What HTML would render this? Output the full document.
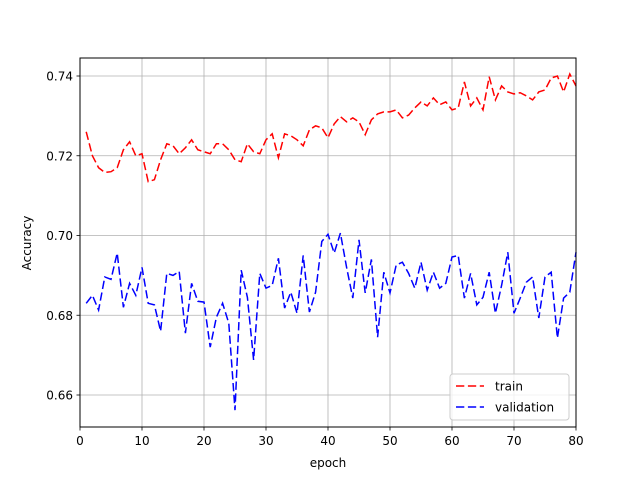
<!DOCTYPE html>
<html><head><meta charset="utf-8"><style>
body{margin:0;background:#fff}
svg{display:block;font-family:"DejaVu Sans","Liberation Sans",sans-serif}
</style></head><body>
<svg id="chart" width="640" height="480" viewBox="0 0 640 480">
<rect width="640" height="480" fill="#fff"/>
<g id="grid"></g>
<g id="series"></g>
<rect x="80" y="58" width="496" height="369" fill="none" stroke="#000" stroke-width="1"/>
<g id="ticks"></g>
<text x="328" y="467" font-size="12" text-anchor="middle">epoch</text>
<text x="31" y="243" font-size="12" text-anchor="middle" transform="rotate(-90 31 243)">Accuracy</text>
<g>
<rect x="450" y="374" width="119" height="46" rx="3" fill="#fff" fill-opacity="0.8" stroke="#ccc"/>
<line x1="456" y1="386" x2="484" y2="386" stroke="red" stroke-width="1.5" stroke-dasharray="8.3,3.6"/>
<text x="495" y="390.5" font-size="12">train</text>
<line x1="456" y1="407" x2="484" y2="407" stroke="blue" stroke-width="1.5" stroke-dasharray="8.3,3.6"/>
<text x="495" y="411.5" font-size="12">validation</text>
</g>
</svg>
<script>
const epochs = Array.from({length:80},(_, i)=>i+1);
const train = [0.726,0.720,0.717,0.7158,0.716,0.717,0.7215,0.7235,0.720,0.7205,0.7135,0.714,0.719,0.723,0.7225,0.7205,0.722,0.724,0.7215,0.721,0.7205,0.723,0.723,0.7215,0.719,0.7185,0.723,0.721,0.7205,0.724,0.7255,0.7195,0.7255,0.725,0.724,0.7225,0.7265,0.7275,0.727,0.7245,0.728,0.7298,0.7285,0.7295,0.7285,0.7253,0.729,0.7305,0.731,0.731,0.7315,0.7295,0.7302,0.732,0.7335,0.7325,0.7345,0.7328,0.7335,0.7315,0.732,0.7385,0.7325,0.7345,0.7315,0.7398,0.734,0.7375,0.736,0.7355,0.7358,0.735,0.734,0.736,0.7365,0.7395,0.740,0.736,0.7405,0.7375];
const validation = [0.683,0.685,0.6813,0.6896,0.689,0.6956,0.682,0.688,0.685,0.692,0.683,0.6826,0.676,0.6905,0.690,0.691,0.6755,0.688,0.6835,0.6833,0.672,0.6795,0.683,0.678,0.6562,0.6913,0.6845,0.6688,0.6905,0.6868,0.6875,0.6943,0.6818,0.6858,0.6805,0.695,0.6808,0.6858,0.6985,0.7003,0.6956,0.7006,0.692,0.6843,0.6989,0.6856,0.694,0.6745,0.6908,0.6856,0.6926,0.6933,0.6905,0.6868,0.6933,0.6863,0.6908,0.6868,0.688,0.6946,0.695,0.6843,0.6905,0.6826,0.6845,0.6908,0.6805,0.6875,0.6958,0.6805,0.6843,0.6883,0.6896,0.6793,0.6896,0.6908,0.6743,0.6843,0.6858,0.6958];
const xTicks = [0,10,20,30,40,50,60,70,80];
const yTicks = [0.66,0.68,0.70,0.72,0.74];
const yTickLabels = ["0.66","0.68","0.70","0.72","0.74"];

const NS="http://www.w3.org/2000/svg";
const xS = v => 80 + v*6.2;
const yS = v => 76 + (0.74 - v)*3987.5;
function mk(tag, attrs, parent){const e=document.createElementNS(NS,tag);for(const k in attrs)e.setAttribute(k,attrs[k]);parent.appendChild(e);return e;}
const grid=document.getElementById('grid'), ticks=document.getElementById('ticks'), series=document.getElementById('series');
xTicks.forEach(t=>{
  const x=xS(t);
  const g=mk('line',{x1:x,x2:x,y1:58,y2:427,stroke:'#b0b0b0','stroke-width':0.8},grid);
  
  
  const tk=mk('line',{x1:x,x2:x,y1:427,y2:430.5,stroke:'#000','stroke-width':0.8},ticks);
  
  
  const lb=mk('text',{x:x,y:445,'font-size':12,'text-anchor':'middle'},ticks);
  lb.textContent=String(t);
  
  
});
yTicks.forEach((t,i)=>{
  const y=yS(t);
  const g=mk('line',{x1:80,x2:576,y1:y,y2:y,stroke:'#b0b0b0','stroke-width':0.8},grid);
  
  
  const tk=mk('line',{x1:76.5,x2:80,y1:y,y2:y,stroke:'#000','stroke-width':0.8},ticks);
  
  
  const lb=mk('text',{x:73,y:y+4.5,'font-size':12,'text-anchor':'end'},ticks);
  lb.textContent=yTickLabels[i];
  
  
});
function line(vals,color,name){
  const d=vals.map((v,i)=>(i?'L':'M')+xS(epochs[i]).toFixed(2)+','+yS(v).toFixed(2)).join('');
  const p=mk('path',{d:d,fill:'none',stroke:color,'stroke-width':1.5,'stroke-dasharray':'8.3,3.6'},series);
  
  
}
line(train,'red','train-line');
line(validation,'blue','validation-line');
</script>
</body></html>
